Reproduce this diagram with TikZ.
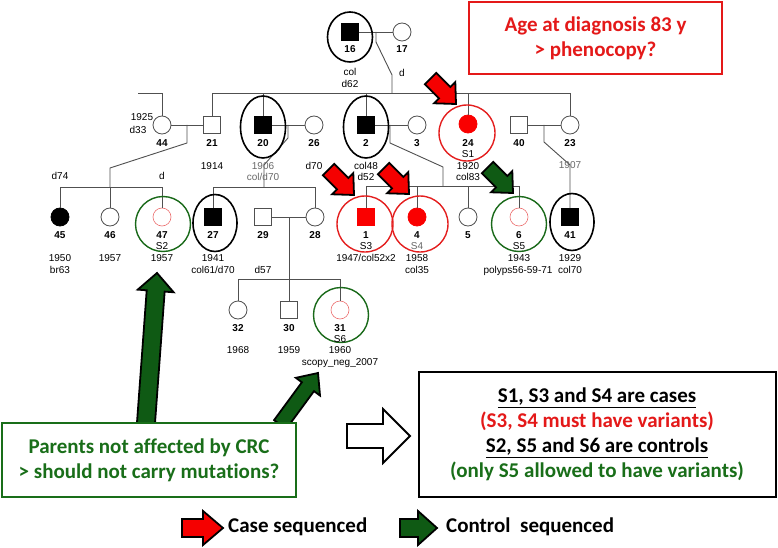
\documentclass[tikz,border=0pt]{standalone}
\usepackage{fontspec}
\setmainfont{Liberation Sans}
\newfontfamily\calib[Ligatures={NoCommon,NoContextual}]{Carlito}
\usetikzlibrary{shapes.geometric}
\definecolor{pline}{RGB}{80,80,80}
\definecolor{ringred}{RGB}{228,30,30}
\definecolor{ringgreen}{RGB}{25,105,25}
\definecolor{lightred}{RGB}{236,110,110}
\definecolor{arrowred}{RGB}{245,0,0}
\definecolor{arrowgreen}{RGB}{15,90,20}
\definecolor{txtred}{RGB}{228,25,25}
\definecolor{txtgreen}{RGB}{25,110,25}
\definecolor{graytxt}{RGB}{105,105,105}
\definecolor{symred}{RGB}{250,0,0}
\tikzset{
  lbl/.style={inner sep=0pt, text height=7.2pt, text depth=0pt, font=\fontsize{10}{12}\selectfont},
  idl/.style={lbl, font=\fontsize{10}{12}\selectfont\bfseries},
  glbl/.style={lbl, text=graytxt},
  pedline/.style={draw=pline, line width=0.9pt},
  male/.style={rectangle, draw=pline, line width=0.8pt, fill=white, minimum size=17pt, inner sep=0pt},
  female/.style={circle, draw=pline, line width=0.8pt, fill=white, minimum size=18pt, inner sep=0pt},
  affm/.style={male, fill=black, draw=black},
  afff/.style={female, fill=black, draw=black},
  casem/.style={male, fill=symred, draw=symred},
  casef/.style={female, fill=symred, draw=symred},
  thinred/.style={female, draw=lightred, line width=0.6pt},
  blackoval/.style={ellipse, draw=black, line width=1.6pt, inner sep=0pt},
  redring/.style={circle, draw=ringred, line width=1.4pt, inner sep=0pt},
  greenring/.style={circle, draw=ringgreen, line width=1.4pt, inner sep=0pt},
  callout/.style={align=center, inner sep=0pt, font=\calib\bfseries\fontsize{21}{25}\selectfont},
  pics/blockarrow/.style n args={5}{code={
    \draw[fill=#1, draw=black, line width=1.8pt, line join=miter, miter limit=4]
      (0,0) -- (-#3,#4) -- (-#3,#5) -- (-#2,#5) -- (-#2,-#5) -- (-#3,-#5) -- (-#3,-#4) -- cycle;
  }},
}
\begin{document}
\begin{tikzpicture}[x=1pt,y=-1pt]
\useasboundingbox (0,0) rectangle (778,548);
\fill[white] (0,0) rectangle (778,548);

% ---------- individuals ----------
% generation I
\node[affm] (p16) at (350,32) {};
\node[female] (p17) at (402,32) {};
% generation II
\node[female] (p44) at (162,125) {};
\node[male] (p21) at (212,125) {};
\node[affm] (p20) at (263,125) {};
\node[female] (p26) at (314,125) {};
\node[affm] (p2) at (366,125) {};
\node[female] (p3) at (417,125) {};
\node[casef] (p24) at (468,124) {};
\node[male] (p40) at (519,125) {};
\node[female] (p23) at (570,125) {};
% generation III
\node[afff] (p45) at (60,217) {};
\node[female] (p46) at (110,217) {};
\node[thinred] (p47) at (162,217) {};
\node[affm] (p27) at (213,217) {};
\node[male] (p29) at (263,217) {};
\node[female] (p28) at (315,217) {};
\node[casem] (p1) at (366,217) {};
\node[casef] (p4) at (417,217) {};
\node[female] (p5) at (468,217) {};
\node[thinred] (p6) at (519,217) {};
\node[affm] (p41) at (570,217) {};
% generation IV
\node[female] (p32) at (238,310) {};
\node[male] (p30) at (289,310) {};
\node[thinred] (p31) at (340,310) {};

% ---------- junction coordinates ----------
\coordinate (c1617) at (376,32);
\coordinate (s21) at (392,93);
\coordinate (stub44) at (138,93);
\coordinate (c4421) at (187,125);
\coordinate (s45) at (110,187);
\coordinate (c2026) at (288,125);
\coordinate (s27) at (264,187);
\coordinate (c23) at (390,125);
\coordinate (s1) at (443,186);
\coordinate (c4023) at (544,125);
\coordinate (c2928) at (289,217);
\coordinate (s32) at (289,279);

% ---------- pedigree lines ----------
\begin{scope}[pedline]
\draw (p16.east) -- (p17.west);
\draw (c1617) -- ++(0,10) -- (392,75) -- (s21);
\draw (p21.north) -- (p21.north |- s21) -- (p23.north |- s21) -- (p23.north);
\draw (p20.north) -- (p20.north |- s21);
\draw (p2.north) -- (p2.north |- s21);
\draw (p24.north) -- (p24.north |- s21);
\draw (stub44) -- (stub44 -| p44.north) -- (p44.north);
\draw (p44.east) -- (p21.west);
\draw (c4421) -- ++(0,18) -- (110,168) -- (s45);
\draw (p45.north) -- (p45.north |- s45) -- (p47.north |- s45) -- (p47.north);
\draw (p46.north) -- (p46.north |- s45);
\draw (p20.east) -- (p26.west);
\draw (c2026) -- ++(0,13) -- (264,165) -- (s27);
\draw (p27.north) -- (p27.north |- s27) -- (p28.north |- s27) -- (p28.north);
\draw (p2.east) -- (p3.west);
\draw (c23) -- ++(0,18) -- (443,167) -- (s1);
\draw (p1.north) -- (p1.north |- s1) -- (p6.north |- s1) -- (p6.north);
\draw (p4.north) -- (p4.north |- s1);
\draw (p5.north) -- (p5.north |- s1);
\draw (p40.east) -- (p23.west);
\draw (c4023) -- ++(0,17) -- (570,165) -- (p41.north);
\draw (p29.east) -- (p28.west);
\draw (c2928) -- (s32);
\draw (p32.north) -- (p32.north |- s32) -- (p31.north |- s32) -- (p31.north);
\draw (p30.north) -- (p30.north |- s32);
\end{scope}

% ---------- ovals and rings ----------
\node[blackoval, minimum width=45pt, minimum height=50pt] (e16) at (350,37) {};
\node[blackoval, minimum width=45pt, minimum height=62pt] (e20) at (263,127) {};
\node[blackoval, minimum width=45pt, minimum height=62pt] (e2) at (366,127) {};
\node[redring, minimum size=56pt] (r24) at (467,133) {};
\node[greenring, minimum size=55pt] (r47) at (163,224) {};
\node[blackoval, minimum width=44pt, minimum height=57pt] (e27) at (215,223) {};
\node[redring, minimum size=56pt] (r1) at (365,224) {};
\node[redring, minimum size=56pt] (r4) at (420,224) {};
\node[greenring, minimum size=55pt] (r6) at (519,224) {};
\node[blackoval, minimum width=44pt, minimum height=57pt] (e41) at (572,222) {};
\node[greenring, minimum size=55pt] (r31) at (341,315) {};

% ---------- labels ----------
\node[idl] (n16) at (350,49) {16};
\node[lbl] (t16a) at (350,72) {col};
\node[lbl] (t16b) at (350,84) {d62};
\node[idl] (n17) at (402,49) {17};
\node[lbl] (td) at (402,73) {d};

\node[lbl] (t44a) at (142,117) {1925};
\node[lbl] (t44b) at (138,130) {d33};
\node[idl] (n44) at (162,143) {44};
\node[idl] (n21) at (212,143) {21};
\node[idl] (n20) at (263,143) {20};
\node[idl] (n26) at (314,143) {26};
\node[idl] (n2) at (366,143) {2};
\node[idl] (n3) at (417,143) {3};
\node[idl] (n24) at (468,143) {24};
\node[lbl] (s1l) at (468,154) {S1};
\node[idl] (n40) at (519,143) {40};
\node[idl] (n23) at (570,143) {23};
\node[lbl] (t21) at (212,166) {1914};
\node[glbl] (t20a) at (263,166) {1906};
\node[glbl] (t20b) at (263,177) {col/d70};
\node[lbl] (t26) at (314,166) {d70};
\node[lbl] (t2a) at (366,166) {col48};
\node[lbl] (t2b) at (366,177) {d52};
\node[lbl] (t24a) at (468,166) {1920};
\node[lbl] (t24b) at (468,177) {col83};
\node[glbl] (t23) at (570,165) {1907};

\node[lbl] (t45d) at (60,176) {d74};
\node[lbl] (t47d) at (162,176) {d};
\node[idl] (n45) at (60,235) {45};
\node[idl] (n46) at (110,235) {46};
\node[idl] (n47) at (162,235) {47};
\node[lbl] (s2l) at (162,246) {S2};
\node[idl] (n27) at (213,235) {27};
\node[idl] (n29) at (263,235) {29};
\node[idl] (n28) at (315,235) {28};
\node[idl] (n1) at (366,235) {1};
\node[lbl] (s3l) at (366,246) {S3};
\node[idl] (n4) at (417,235) {4};
\node[glbl] (s4l) at (417,246) {S4};
\node[idl] (n5) at (468,235) {5};
\node[idl] (n6) at (519,235) {6};
\node[lbl] (s5l) at (519,246) {S5};
\node[idl] (n41) at (570,235) {41};
\node[lbl] (t45a) at (60,258) {1950};
\node[lbl] (t45b) at (60,270) {br63};
\node[lbl] (t46) at (110,258) {1957};
\node[lbl] (t47) at (162,258) {1957};
\node[lbl] (t27a) at (213,258) {1941};
\node[lbl] (t27b) at (213,270) {col61/d70};
\node[lbl] (t29) at (263,270) {d57};
\node[lbl] (t1) at (366,258) {1947/col52x2};
\node[lbl] (t4a) at (417,258) {1958};
\node[lbl] (t4b) at (417,270) {col35};
\node[lbl] (t6a) at (519,258) {1943};
\node[lbl] (t6b) at (518,270) {polyps56-59-71};
\node[lbl] (t41a) at (570,258) {1929};
\node[lbl] (t41b) at (570,270) {col70};

\node[idl] (n32) at (238,328) {32};
\node[idl] (n30) at (289,328) {30};
\node[idl] (n31) at (340,328) {31};
\node[lbl] (s6l) at (340,339) {S6};
\node[lbl] (t32) at (238,350) {1968};
\node[lbl] (t30) at (289,350) {1959};
\node[lbl] (t31a) at (340,350) {1960};
\node[lbl] (t31b) at (340,362) {scopy\_neg\_2007};

% ---------- sequencing arrows ----------
\pic[rotate=-45] (a24) at (456,104) {blockarrow={arrowred}{36}{16}{15}{8}};
\pic[rotate=-45] (a1) at (354,195) {blockarrow={arrowred}{36}{16}{15}{8}};
\pic[rotate=-45] (a4) at (409,194) {blockarrow={arrowred}{36}{16}{15}{8}};
\pic[rotate=-45] (a6) at (513,193) {blockarrow={arrowgreen}{36}{16}{15}{8}};

% ---------- big arrows ----------
\pic[rotate=85.8] (big1) at (157,273) {blockarrow={arrowgreen}{156}{18}{18}{9}};
\pic[rotate=53.7] (big2) at (318,373) {blockarrow={arrowgreen}{64}{17}{15}{7.5}};
\pic (hollow) at (410,436) {blockarrow={white}{63}{27}{27}{12}};

% ---------- callout boxes ----------
\node[draw=txtred, line width=2pt, minimum width=253pt, minimum height=72pt, callout, text=txtred] (agebox) at (595.5,38.5) {Age at diagnosis 83 y\\> phenocopy?};
\node[draw=txtgreen, line width=1.6pt, fill=white, minimum width=294pt, minimum height=74pt, callout, text=txtgreen] (parbox) at (149,460) {Parents not affected by CRC\\> should not carry mutations?};
\node[draw=black, line width=2pt, minimum width=357pt, minimum height=125pt, callout] (sumbox) at (597,434.5) {\underline{S1, S3 and S4 are cases}\\\textcolor{txtred}{(S3, S4 must have variants)}\\\underline{S2, S5 and S6 are controls}\\\textcolor{txtgreen}{(only S5 allowed to have variants)}};

% ---------- legend ----------
\pic (legred) at (223,528) {blockarrow={arrowred}{41}{20}{17}{9}};
\node[callout, anchor=west] (legcase) at (228,527) {Case sequenced};
\pic (leggreen) at (437,528) {blockarrow={arrowgreen}{37}{19}{17}{9}};
\node[callout, anchor=west] (legctrl) at (446,527) {Control\ \ sequenced};
\end{tikzpicture}
\end{document}
